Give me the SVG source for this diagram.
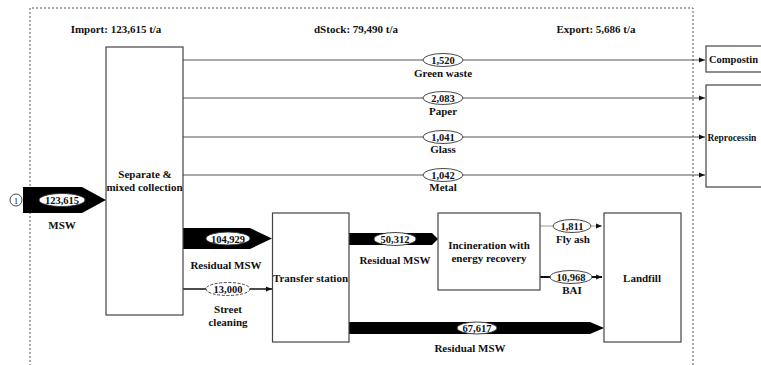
<svg xmlns="http://www.w3.org/2000/svg" width="761" height="365" viewBox="0 0 761 365">
<defs>
<style>
text{font-family:"Liberation Serif","Times New Roman",serif;font-weight:bold;font-size:11px;fill:#111;text-anchor:middle}
.box{fill:#fff;stroke:#444;stroke-width:1.2}
.thin{fill:none;stroke:#555;stroke-width:1.1}
.big{fill:#000}
.lbl{fill:#fff;stroke:#333;stroke-width:0.9}
.n{font-size:10.5px}
</style>
<marker id="ah" viewBox="0 0 6 6" refX="6" refY="3" markerWidth="6" markerHeight="6" markerUnits="userSpaceOnUse" orient="auto">
<path d="M0,0.5 L6,3 L0,5.5 Z" fill="#111"/>
</marker>
</defs>
<rect width="761" height="365" fill="#fff"/>
<path d="M30,370 V8 H693 V370" fill="none" stroke="#555" stroke-width="1" stroke-dasharray="2,2"/>
<text x="116" y="33">Import: 123,615 t/a</text>
<text x="356" y="33">dStock: 79,490 t/a</text>
<text x="596" y="33">Export: 5,686 t/a</text>

<g id="connectors">
<line class="thin" x1="183" y1="60" x2="705" y2="60" marker-end="url(#ah)"/>
<line class="thin" x1="183" y1="98" x2="705" y2="98" marker-end="url(#ah)"/>
<line class="thin" x1="183" y1="137" x2="705" y2="137" marker-end="url(#ah)"/>
<line class="thin" x1="183" y1="175" x2="705" y2="175" marker-end="url(#ah)"/>
<ellipse class="lbl" cx="443" cy="60" rx="20" ry="6.5"/><text class="n" x="443" y="64">1,520</text><text x="443" y="77">Green waste</text>
<ellipse class="lbl" cx="443" cy="98" rx="20" ry="6.5"/><text class="n" x="443" y="102">2,083</text><text x="443" y="115">Paper</text>
<ellipse class="lbl" cx="443" cy="137" rx="20" ry="6.5"/><text class="n" x="443" y="141">1,041</text><text x="443" y="153">Glass</text>
<ellipse class="lbl" cx="443" cy="175" rx="20" ry="6.5"/><text class="n" x="443" y="179">1,042</text><text x="443" y="191">Metal</text>

<circle cx="16" cy="200" r="6" fill="#fff" stroke="#333" stroke-width="0.9"/>
<text x="16" y="203.5" style="font-size:9px;font-weight:normal">1</text>
<polygon class="big" points="23,187 82,187 106,200 82,213 23,213"/>
<ellipse class="lbl" cx="62" cy="200" rx="23" ry="6.5"/><text class="n" x="62" y="204">123,615</text>
<text x="62" y="229">MSW</text>

<polygon class="big" points="183,228 250,228 272,238.5 250,249 183,249"/>
<ellipse class="lbl" cx="228" cy="238.5" rx="22" ry="6.5"/><text class="n" x="228" y="242.5">104,929</text>
<text x="226" y="269">Residual MSW</text>

<line x1="183" y1="289" x2="272" y2="289" stroke="#111" stroke-width="1.6" marker-end="url(#ah)"/>
<ellipse class="lbl" cx="228" cy="289" rx="22" ry="6.5" stroke-dasharray="3,1.5"/><text class="n" x="228" y="293">13,000</text>
<text x="228" y="313">Street</text>
<text x="228" y="326">cleaning</text>

<polygon class="big" points="349,233 432,233 438,239 432,245 349,245"/>
<ellipse class="lbl" cx="395" cy="239" rx="21" ry="6.5"/><text class="n" x="395" y="243">50,312</text>
<text x="395" y="264">Residual MSW</text>

<line x1="540" y1="226" x2="602" y2="226" stroke="#999" stroke-width="1" marker-end="url(#ah)"/>
<ellipse class="lbl" cx="572" cy="226" rx="19" ry="6.5"/><text class="n" x="572" y="230">1,811</text>
<text x="573" y="243">Fly ash</text>

<line x1="540" y1="277" x2="602" y2="277" stroke="#111" stroke-width="2" marker-end="url(#ah)"/>
<ellipse class="lbl" cx="571" cy="277" rx="21" ry="6.5"/><text class="n" x="571" y="281">10,968</text>
<text x="572" y="294">BAI</text>

<polygon class="big" points="349,322 590,322 604,328 590,334 349,334"/>
<ellipse class="lbl" cx="477" cy="328" rx="20" ry="6"/><text class="n" x="477" y="332">67,617</text>
<text x="470" y="352">Residual MSW</text>
</g>

<g id="collection">
<rect class="box" x="106" y="47" width="77" height="268"/>
<text x="145" y="178">Separate &amp;</text>
<text x="144.5" y="191">mixed collection</text>
</g>
<g id="transfer">
<rect class="box" x="272.5" y="213" width="76.5" height="129"/>
<text x="310.5" y="282">Transfer station</text>
</g>
<g id="incineration">
<rect class="box" x="438" y="213" width="102" height="77"/>
<text x="489" y="249">Incineration with</text>
<text x="489" y="262">energy recovery</text>
</g>
<g id="landfill">
<rect class="box" x="604" y="213" width="77" height="129" stroke="#666"/>
<text x="642" y="282">Landfill</text>
</g>
<g id="composting">
<rect class="box" x="706" y="46" width="60" height="26"/>
<text x="709" y="63" style="text-anchor:start;font-size:10.5px">Compostin</text>
</g>
<g id="reprocessing">
<rect class="box" x="706" y="85" width="60" height="102"/>
<text x="707.5" y="140.5" style="text-anchor:start;font-size:9.5px">Reprocessin</text>
</g>
</svg>
